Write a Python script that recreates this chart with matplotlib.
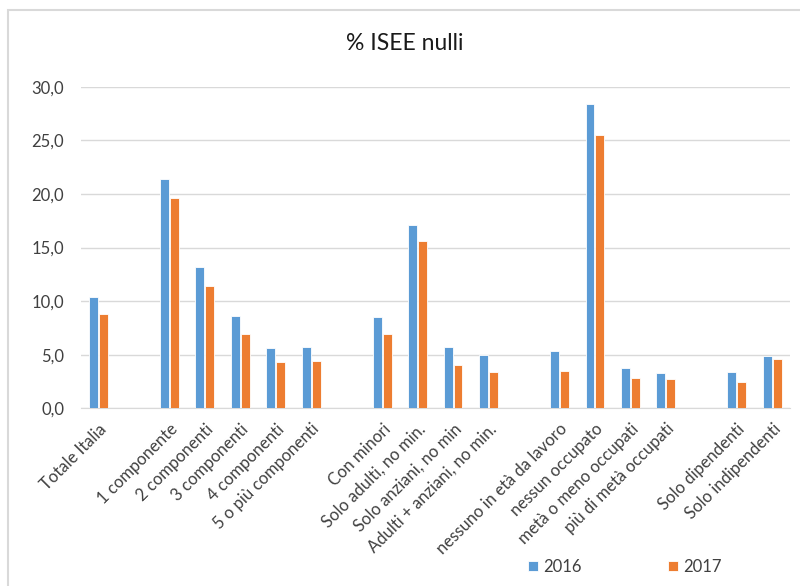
import numpy as np
import matplotlib
matplotlib.use("Agg")
import matplotlib.pyplot as plt
from matplotlib.patches import Rectangle

# categories (blank entries leave a gap between groups)
categories = [
    "Totale Italia", "",
    "1 componente", "2 componenti", "3 componenti", "4 componenti", "5 o più componenti", "",
    "Con minori", "Solo adulti, no min.", "Solo anziani, no min", "Adulti + anziani, no min.", "",
    "nessuno in età da lavoro", "nessun occupato", "metà o meno occupati", "più di metà occupati", "",
    "Solo dipendenti", "Solo indipendenti",
]
vals_2016 = [10.4, np.nan, 21.4, 13.2, 8.6, 5.6, 5.7, np.nan, 8.5, 17.1, 5.7, 5.0, np.nan,
             5.3, 28.4, 3.8, 3.3, np.nan, 3.4, 4.9]
vals_2017 = [8.8, np.nan, 19.6, 11.4, 6.9, 4.3, 4.4, np.nan, 6.9, 15.6, 4.0, 3.4, np.nan,
             3.5, 25.5, 2.8, 2.7, np.nan, 2.5, 4.6]
years = ["2016", "2017"]
colors = ["#5B9BD5", "#ED7D31"]

plt.rcParams["font.family"] = ["Lato", "DejaVu Sans"]

fig = plt.figure(figsize=(8, 5.86), dpi=100)
ax = fig.add_axes([80.7 / 800, 1 - 408.3 / 586, (790 - 80.7) / 800, (408.3 - 86.7) / 586])

x = np.arange(len(categories))
w = 0.25
for i, (vals, c, lab) in enumerate(zip([vals_2016, vals_2017], colors, years)):
    ax.bar(x + (i - 0.5) * (w + 0.03), vals, width=w, color=c, edgecolor="white",
           linewidth=0.6, label=lab, zorder=3)

ax.set_xlim(-0.5, len(categories) - 0.5)
ax.set_ylim(0, 30)
ax.set_yticks(np.arange(0, 31, 5))
ax.set_yticklabels([f"{v:.1f}".replace(".", ",") for v in np.arange(0, 31, 5)],
                   fontsize=12, color="#404040")
ax.yaxis.grid(True, color="#D9D9D9", linewidth=1, zorder=0)
ax.tick_params(axis="y", length=0, pad=12)
ax.tick_params(axis="x", length=0, pad=9)
for s in ["top", "right", "left"]:
    ax.spines[s].set_visible(False)
ax.spines["bottom"].set_color("#D9D9D9")

ax.set_xticks(x)
ax.set_xticklabels(categories, rotation=45, ha="right", va="top", rotation_mode="anchor",
                   fontsize=12, color="#404040")

fig.text(405 / 800, 1 - 43 / 586, "% ISEE nulli", ha="center", va="center",
         fontsize=16.5, color="#1a1a1a")

handles, labels = ax.get_legend_handles_labels()
fig.legend(handles, labels, loc="center", bbox_to_anchor=(625 / 800, 1 - 567 / 586),
           ncol=2, frameon=False, fontsize=12, handlelength=0.6, handleheight=0.6,
           handletextpad=0.3, columnspacing=5.2, labelcolor="#404040")

# chart area border
fig.patches.append(Rectangle((8 / 800, -0.05), 1.2, 1 - 10 / 586 + 0.05,
                             transform=fig.transFigure, fill=False,
                             edgecolor="#D9D9D9", linewidth=1.5))

fig.savefig("out.png", dpi=100)
